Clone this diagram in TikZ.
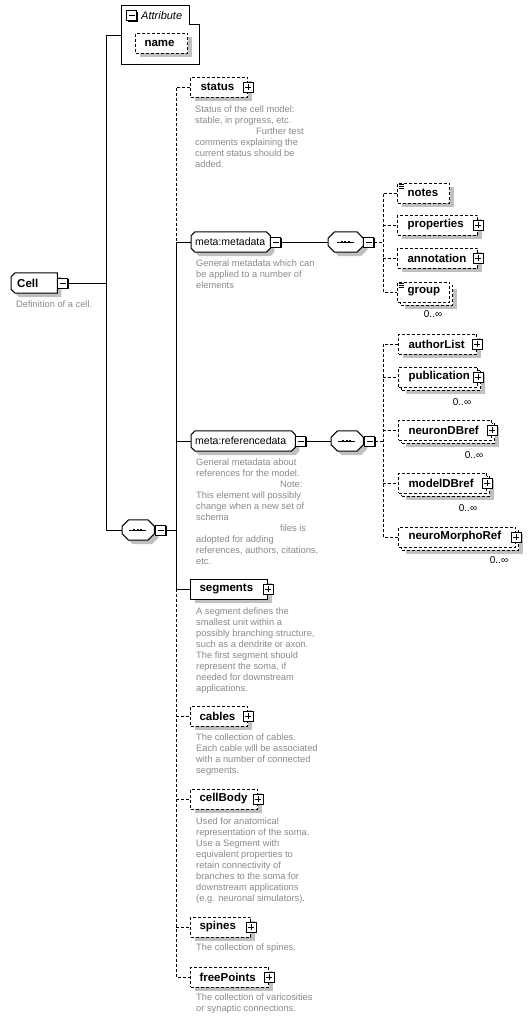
\documentclass[tikz,border=0pt]{standalone}
\usepackage{fontspec}
\setmainfont{Liberation Sans}
\usetikzlibrary{shadows}
\definecolor{shd}{HTML}{C0C0C0}
\definecolor{desccol}{HTML}{8A8A8A}
\pgfdeclarelayer{bgfill}
\pgfdeclarelayer{shp}
\pgfsetlayers{bgfill,shp,main}
\newcommand\bx[3]{\hbox to #1pt{\hspace*{#2pt}#3\hfil}}
% chamfered outline from the anchors of a node: #1 node, #2 left chamfer, #3 right chamfer
\newcommand\octpath[3]{([xshift=#2]#1.north west) -- ([xshift=-#3]#1.north east) --
  ([yshift=-#3]#1.north east) -- ([yshift=#3]#1.south east) --
  ([xshift=-#3]#1.south east) -- ([xshift=#2]#1.south west) --
  ([yshift=#2]#1.south west) -- ([yshift=-#2]#1.north west) -- cycle}
\newcommand\octo[3]{\begin{pgfonlayer}{shp}
  \fill[shd, transform canvas={xshift=4pt,yshift=-4pt}] \octpath{#1}{#2}{#3};
  \filldraw[fill=white, line width=1pt] \octpath{#1}{#2}{#3};
  \end{pgfonlayer}}
\newcommand\seqsym[1]{\begin{pgfonlayer}{shp}
  \draw[line width=1pt] ([xshift=-9pt]#1.center) -- ([xshift=8pt]#1.center);
  \fill ([xshift=-5.2pt,yshift=-1.2pt]#1.center) rectangle ([xshift=-2.8pt,yshift=1.2pt]#1.center);
  \fill ([xshift=-1.7pt,yshift=-1.2pt]#1.center) rectangle ([xshift=0.7pt,yshift=1.2pt]#1.center);
  \fill ([xshift=1.8pt,yshift=-1.2pt]#1.center) rectangle ([xshift=4.2pt,yshift=1.2pt]#1.center);
  \end{pgfonlayer}}
\tikzset{
  base/.style={draw, line width=1pt, fill=white, minimum height=20pt, inner sep=0pt,
    anchor=west, font=\bfseries\fontsize{11.5}{13}\selectfont},
  shad/.style={general shadow={fill=shd, shadow xshift=4pt, shadow yshift=-4pt}},
  opt/.style={dash pattern=on 3pt off 2pt},
  elem/.style={base, shad, rectangle},
  back/.style={base, shad, rectangle, opt},
  front/.style={base, rectangle, opt},
  ghost/.style={rectangle, inner sep=0pt, minimum height=20pt, anchor=west,
    font=\fontsize{10.5}{12}\selectfont},
  pm/.style={draw, line width=0.8pt, fill=white, minimum size=10pt, inner sep=0pt,
    general shadow={fill=black, shadow xshift=1pt, shadow yshift=-1pt}},
  plusbox/.style={pm, path picture={
      \draw[line width=0.8pt] ([xshift=2pt]path picture bounding box.west) --
        ([xshift=-2pt]path picture bounding box.east)
        ([yshift=-2pt]path picture bounding box.north) --
        ([yshift=2pt]path picture bounding box.south);}},
  minusbox/.style={pm, path picture={
      \draw[line width=0.8pt] ([xshift=2pt]path picture bounding box.west) --
        ([xshift=-2pt]path picture bounding box.east);}},
  desc/.style={anchor=north west, inner sep=0pt, align=left, text=desccol,
    font=\fontsize{9.3}{11}\selectfont},
  mult/.style={inner sep=0pt, font=\fontsize{10}{12}\selectfont},
  conn/.style={line width=1pt},
  icon/.style={line width=0.6pt}
}
\begin{document}
\begin{tikzpicture}[x=1pt,y=-1pt]
\begin{pgfonlayer}{bgfill}
\fill[white] (0,0) rectangle (532,1020);
\end{pgfonlayer}
\useasboundingbox (0,0) rectangle (532,1020);

% ---------- Attribute group ----------
\draw[line width=1pt] (121,5) -- (189,5) -- (189,24) -- (199,24) -- (199,64) -- (121,64) -- cycle;
\coordinate (attr) at (121,35);
\node[minusbox] (attrm) at (131.5,15.5) {};
\node[anchor=west, inner sep=0pt, font=\itshape\fontsize{11}{13}\selectfont] (attrt) at (141,15.5) {Attribute};
\node[elem, opt, minimum width=52pt] (name) at (135,43) {\bx{52}{9}{name}};

% ---------- Cell ----------
\node[ghost, minimum width=46pt, font=\bfseries\fontsize{11.5}{13}\selectfont] (cell) at (11,283) {\bx{46}{6}{Cell}};
\octo{cell}{4pt}{0pt}
\node[minusbox, anchor=west] (cellm) at (cell.east) {};
\node[desc] (celld) at (16,301) {Definition of a cell.};

% ---------- main sequence ----------
\node[ghost, minimum width=32pt] (c1) at (122,530) {};
\octo{c1}{6.5pt}{6.5pt}
\seqsym{c1}
\node[minusbox, anchor=west] (c1m) at ([xshift=1pt]c1.east) {};

\coordinate (jtop) at (106,35);
\coordinate (jbot) at (106,530);
\draw[conn] (cellm.east) -- (cellm.east -| jtop);
\draw[conn] (attr) -- (jtop) -- (jbot) -- (c1.west);

\coordinate (v1) at (176,87);

% status
\node[elem, opt, minimum width=57pt] (status) at (190,87) {\bx{57}{10}{status}};
\node[plusbox] (statusp) at (status.east) {};
\node[desc] (statusd) at (195,106) {Status of the cell model:\\stable, in progress, etc.\\\hspace*{61pt}Further test\\comments explaining the\\current status should be\\added.};

% meta:metadata
\node[ghost, minimum width=79pt] (meta) at (191,242) {\bx{79}{4}{meta:metadata}};
\octo{meta}{4pt}{4pt}
\node[minusbox, anchor=west] (metam) at (meta.east) {};
\node[desc] (metad) at (196,260) {General metadata which can\\be applied to a number of\\elements};

\node[ghost, minimum width=35pt] (c2) at (328,242) {};
\octo{c2}{6.5pt}{6.5pt}
\seqsym{c2}
\node[minusbox, anchor=west] (c2m) at (c2.east) {};
\coordinate (v2) at (383,193);

\node[elem, opt, minimum width=52pt] (notes) at (397,193) {\bx{52}{10}{notes}};
\draw[icon] (398.5,184.5) -- (404,184.5) (398.5,186.3) -- (404,186.3) (398.5,188.1) -- (404,188.1);
\node[elem, opt, minimum width=80pt] (props) at (397,225) {\bx{80}{10}{properties}};
\node[plusbox] (propsp) at (props.east) {};
\node[elem, opt, minimum width=80pt] (annot) at (397,258) {\bx{80}{10}{annotation}};
\node[plusbox] (annotp) at (annot.east) {};
\node[back, minimum width=52pt] (groupb) at (400,295) {};
\node[front, minimum width=52pt] (group) at (397,292) {\bx{52}{10}{group}};
\draw[icon] (398.5,283.5) -- (404,283.5) (398.5,285.3) -- (404,285.3) (398.5,287.1) -- (404,287.1);
\node[mult] (groupm) at (433,314) {0..∞};

\draw[conn] (metam.east) -- (c2.west);
\draw[conn, opt] (c2m.east) -- (c2m.east -| v2);
\draw[conn, opt] (notes.west) -- (notes.west -| v2) -- (group.west -| v2) -- (group.west);
\draw[conn, opt] (props.west -| v2) -- (props.west);
\draw[conn, opt] (annot.west -| v2) -- (annot.west);

% meta:referencedata
\node[ghost, minimum width=104pt] (ref) at (191,441) {\bx{104}{4}{meta:referencedata}};
\octo{ref}{4pt}{4pt}
\node[minusbox, anchor=west] (refm) at (ref.east) {};
\node[desc] (refd) at (196,459) {General metadata about\\references for the model.\\\hspace*{84pt}Note:\\This element will possibly\\change when a new set of\\schema\\\hspace*{84pt}files is\\adopted for adding\\references, authors, citations,\\etc.};

\node[ghost, minimum width=32pt] (c3) at (331,441) {};
\octo{c3}{6.5pt}{6.5pt}
\seqsym{c3}
\node[minusbox, anchor=west] (c3m) at ([xshift=1pt]c3.east) {};
\coordinate (v3) at (383,344);

\node[elem, opt, minimum width=78pt] (auth) at (398,344) {\bx{78}{10}{authorList}};
\node[plusbox] (authp) at (auth.east) {};

\node[back, minimum width=79pt] (pubb) at (401,380) {};
\node[front, minimum width=79pt] (pub) at (398,377) {\bx{79}{10}{publication}};
\node[plusbox] (pubp) at (pub.east) {};
\node[mult] (pubm) at (462,402) {0..∞};

\node[back, minimum width=93pt] (ndbb) at (401,433) {};
\node[front, minimum width=93pt] (ndb) at (398,430) {\bx{93}{10}{neuronDBref}};
\node[plusbox] (ndbp) at (ndb.east) {};
\node[mult] (ndbm) at (474,455) {0..∞};

\node[back, minimum width=88pt] (mdbb) at (401,486) {};
\node[front, minimum width=88pt] (mdb) at (398,483) {\bx{88}{10}{modelDBref}};
\node[plusbox] (mdbp) at (mdb.east) {};
\node[mult] (mdbm) at (468,508) {0..∞};

\node[back, minimum width=117pt] (nmrb) at (401,540) {};
\node[front, minimum width=117pt] (nmr) at (398,537) {\bx{117}{10}{neuroMorphoRef}};
\node[plusbox] (nmrp) at (nmr.east) {};
\node[mult] (nmrm) at (499,560) {0..∞};

\draw[conn] (refm.east) -- (c3.west);
\draw[conn, opt] (c3m.east) -- (c3m.east -| v3);
\draw[conn, opt] (auth.west) -- (auth.west -| v3) -- (nmr.west -| v3) -- (nmr.west);
\draw[conn, opt] (pub.west -| v3) -- (pub.west);
\draw[conn, opt] (ndb.west -| v3) -- (ndb.west);
\draw[conn, opt] (mdb.west -| v3) -- (mdb.west);

% segments etc.
\node[elem, minimum width=77pt] (seg) at (190,589) {\bx{77}{9}{segments}};
\node[plusbox] (segp) at (seg.east) {};
\node[desc] (segd) at (196,608) {A segment defines the\\smallest unit within a\\possibly branching structure,\\such as a dendrite or axon.\\The first segment should\\represent the soma, if\\needed for downstream\\applications.};

\node[elem, opt, minimum width=57pt] (cab) at (190,716) {\bx{57}{9}{cables}};
\node[plusbox] (cabp) at (cab.east) {};
\node[desc] (cabd) at (196,734) {The collection of cables.\\Each cable will be associated\\with a number of connected\\segments.};

\node[elem, opt, minimum width=67pt] (cb) at (190,799) {\bx{67}{9}{cellBody}};
\node[plusbox] (cbp) at (cb.east) {};
\node[desc] (cbd) at (196,818) {Used for anatomical\\representation of the soma.\\Use a Segment with\\equivalent properties to\\retain connectivity of\\branches to the soma for\\downstream applications\\(e.g. neuronal simulators).};

\node[elem, opt, minimum width=60pt] (sp) at (190,927) {\bx{60}{9}{spines}};
\node[plusbox] (spp) at (sp.east) {};
\node[desc] (spd) at (196,944) {The collection of spines.};

\node[elem, opt, minimum width=78pt] (fp) at (190,977) {\bx{78}{9}{freePoints}};
\node[plusbox] (fpp) at (fp.east) {};
\node[desc] (fpd) at (196,994) {The collection of varicosities\\or synaptic connections.};

% main vertical connectors
\draw[conn] (c1m.east) -- (c1m.east -| v1);
\draw[conn, opt] (status.west) -- (status.west -| v1) -- (meta.west -| v1);
\draw[conn] (meta.west -| v1) -- (seg.west -| v1);
\draw[conn] (meta.west -| v1) -- (meta.west);
\draw[conn] (ref.west -| v1) -- (ref.west);
\draw[conn] (seg.west -| v1) -- (seg.west);
\draw[conn, opt] (seg.west -| v1) -- (fp.west -| v1) -- (fp.west);
\draw[conn, opt] (cab.west -| v1) -- (cab.west);
\draw[conn, opt] (cb.west -| v1) -- (cb.west);
\draw[conn, opt] (sp.west -| v1) -- (sp.west);
\end{tikzpicture}
\end{document}
